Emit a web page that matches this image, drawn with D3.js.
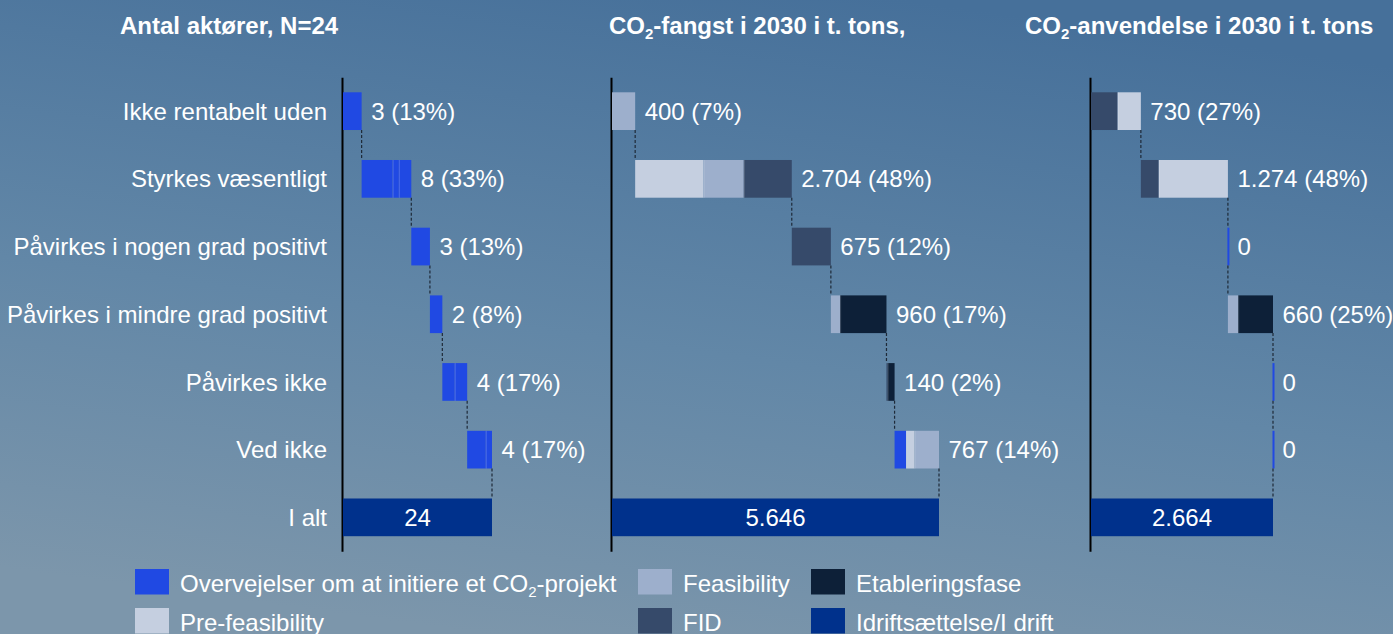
<!DOCTYPE html>
<html><head><meta charset="utf-8">
<script src="https://cdn.jsdelivr.net/npm/d3@7"></script>
<style>html,body{margin:0;padding:0;overflow:hidden;background:#5e84a4;} svg{display:block;}</style>
</head><body>
<svg id="c" width="1393" height="634"></svg>
<script>
// ---------- DATA ----------
const categories = ["Ikke rentabelt uden","Styrkes væsentligt","Påvirkes i nogen grad positivt","Påvirkes i mindre grad positivt","Påvirkes ikke","Ved ikke"];
const totalLabel = "I alt";
const phases = ["Overvejelser om at initiere et CO2-projekt","Pre-feasibility","Feasibility","FID","Etableringsfase","Idriftsættelse/I drift"];
const phaseColors = ["#2049e3","#c5cfe0","#9dafcc","#364a6a","#0d2038","#00318c"];
const panelTitles = ["Antal aktører, N=24","CO2-fangst i 2030 i t. tons,","CO2-anvendelse i 2030 i t. tons"];
// rows: list of [phaseIndex, value] segments per category
const aktorerRows = [
  [[0,3]],
  [[0,5],[0,1],[0,2]],
  [[0,3]],
  [[0,2]],
  [[0,2],[0,2]],
  [[0,3],[0,1]]
];
const fangstRows = [
  [[2,400]],
  [[1,1180],[2,695],[3,829]],
  [[3,675]],
  [[2,160],[4,800]],
  [[3,20],[4,120]],
  [[0,200],[1,143],[2,424]]
];
const anvendelseRows = [
  [[3,390],[1,340]],
  [[3,262],[1,1012]],
  [],
  [[2,150],[4,510]],
  [],
  []
];

// ---------- LAYOUT ----------
const W = 1393, H = 634;
const FONT = "'Liberation Sans', Arial, Helvetica, sans-serif";
const FS = 24;
const svg = d3.select("#c");

const defs = svg.append("defs");
const grad = defs.append("linearGradient").attr("id","bg")
  .attr("x1","0.35").attr("y1","1").attr("x2","0.65").attr("y2","0");
grad.append("stop").attr("offset","0").attr("stop-color","#7c96ab");
grad.append("stop").attr("offset","0.45").attr("stop-color","#6287a7");
grad.append("stop").attr("offset","1").attr("stop-color","#46709a");
svg.append("rect").attr("width",W).attr("height",H).attr("fill","url(#bg)");

const fmt = d3.formatLocale({decimal:",", thousands:".", grouping:[3], currency:["","kr"]}).format(",d");

function richText(sel, str, subSize, subDy){
  const parts = str.split("CO2");
  parts.forEach((p,i)=>{
    let pendingUp = false;
    if(i>0){
      sel.append("tspan").text("CO");
      sel.append("tspan").attr("font-size",subSize).attr("dy",subDy).text("2");
      pendingUp = true;
    }
    if(p){
      const ts = sel.append("tspan").text(p);
      if(pendingUp) ts.attr("dy",-subDy);
    }
  });
}

const y = d3.scaleBand().domain([...categories, totalLabel])
  .range([77.3, 551.2]).paddingInner(0.443).paddingOuter(0.2215);
const bw = y.bandwidth();

const panels = [
  {title: panelTitles[0], rows: aktorerRows, x0: 343, x1: 492, titleX: 120, labels: true},
  {title: panelTitles[1], rows: fangstRows, x0: 612, x1: 939, titleX: 609, labels: false},
  {title: panelTitles[2], rows: anvendelseRows, x0: 1091, x1: 1273, titleX: 1025, labels: false}
];

panels.forEach(p=>{
  const rowTotals = p.rows.map(r=>d3.sum(r, s=>s[1]));
  const total = d3.sum(rowTotals);
  const x = d3.scaleLinear().domain([0,total]).range([p.x0, p.x1]);
  const g = svg.append("g");

  // title
  const t = g.append("text").attr("x",p.titleX).attr("y",33.5)
    .attr("font-family",FONT).attr("font-size",FS).attr("font-weight","bold").attr("fill","#fff");
  richText(t, p.title, 15, 5);

  // axis
  const ax = g.append("g").attr("transform",`translate(${p.x0-1},0)`)
    .call(d3.axisLeft(y).tickSize(0).tickPadding(15).tickFormat(p.labels ? (d=>d) : ()=>""));
  ax.select(".domain").attr("stroke","#000").attr("stroke-width",2);
  ax.selectAll(".tick text").attr("font-family",FONT).attr("font-size",FS).attr("fill","#fff").attr("dy","0.36em");

  let cum = 0;
  p.rows.forEach((row,i)=>{
    const cat = categories[i];
    const yTop = y(cat);
    const rt = rowTotals[i];
    if(rt === 0){
      g.append("rect").attr("x",x(cum)-0.5).attr("y",yTop).attr("width",2).attr("height",bw).attr("fill",phaseColors[0]);
    }
    let c = cum;
    row.forEach((s,j)=>{
      g.append("rect").attr("x",x(c)).attr("y",yTop).attr("width",x(c+s[1])-x(c)).attr("height",bw).attr("fill",phaseColors[s[0]]);
      if(j>0){
        g.append("line").attr("x1",x(c)+0.5).attr("x2",x(c)+0.5).attr("y1",yTop).attr("y2",yTop+bw)
          .attr("stroke","rgba(255,255,255,0.18)").attr("stroke-width",1);
      }
      c += s[1];
    });
    cum += rt;
    // value label
    const lbl = rt === 0 ? "0" : `${fmt(rt)} (${Math.round(rt/total*100)}%)`;
    g.append("text").attr("x",x(cum)+9.5).attr("y",yTop+bw/2).attr("dy","0.36em")
      .attr("font-family",FONT).attr("font-size",FS).attr("fill","#fff").text(lbl);
    // connector
    const next = i < categories.length-1 ? categories[i+1] : totalLabel;
    g.append("line").attr("x1",x(cum)).attr("x2",x(cum)).attr("y1",yTop+bw).attr("y2",y(next))
      .attr("stroke","#1e2a38").attr("stroke-width",1.2).attr("stroke-dasharray","3,2");
  });

  // total bar
  g.append("rect").attr("x",x(0)).attr("y",y(totalLabel)).attr("width",x(total)-x(0)).attr("height",bw).attr("fill",phaseColors[5]);
  g.append("text").attr("x",(x(0)+x(total))/2).attr("y",y(totalLabel)+bw/2).attr("dy","0.36em")
    .attr("text-anchor","middle").attr("font-family",FONT).attr("font-size",FS).attr("fill","#fff").text(fmt(total));
});

// legend
const legColX = [135, 638, 811];
const legRowY = [569, 608];
const leg = svg.append("g");
phases.forEach((ph,i)=>{
  const cx = legColX[Math.floor(i/2)], ry = legRowY[i%2];
  leg.append("rect").attr("x",cx).attr("y",ry).attr("width",34).attr("height",25.5).attr("fill",phaseColors[i]);
  const t = leg.append("text").attr("x",cx+45).attr("y",ry+23).attr("font-family",FONT).attr("font-size",FS).attr("fill","#fff");
  richText(t, ph, 15, 5);
});
</script>
</body></html>
